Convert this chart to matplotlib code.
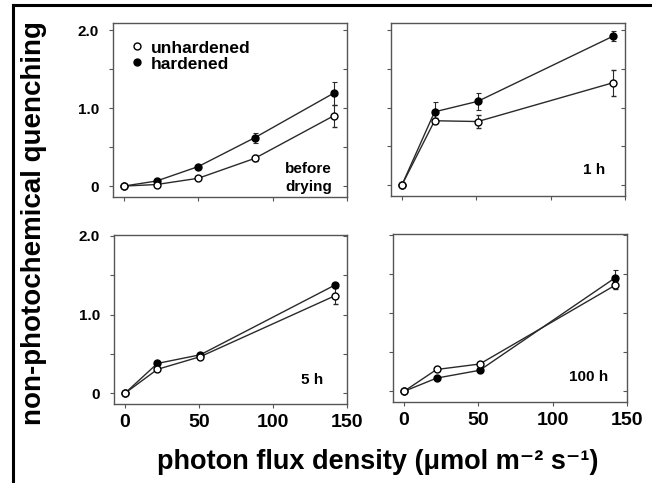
import matplotlib
matplotlib.use("Agg")
import matplotlib.pyplot as plt
from matplotlib.lines import Line2D

plt.rcParams['font.family'] = ['Liberation Sans', 'DejaVu Sans']
plt.rcParams['font.weight'] = 'bold'

# photon flux density (umol m-2 s-1)
x_before = [0, 22, 50, 88, 141]
x_later = [0, 22, 51, 142]

panel_titles = ['before\ndrying', '1 h', '5 h', '100 h']

unhard = [
    [0.0, 0.02, 0.10, 0.355, 0.90],
    [0.0, 0.83, 0.82, 1.32],
    [0.0, 0.305, 0.466, 1.24],
    [0.0, 0.28, 0.35, 1.355],
]
unhard_err = [
    [0.0, 0.0, 0.0, 0.04, 0.14],
    [0.0, 0.03, 0.08, 0.17],
    [0.0, 0.0, 0.0, 0.10],
    [0.0, 0.0, 0.0, 0.05],
]
hard = [
    [0.0, 0.065, 0.25, 0.62, 1.19],
    [0.0, 0.945, 1.08, 1.92],
    [0.0, 0.38, 0.49, 1.376],
    [0.0, 0.17, 0.27, 1.45],
]
hard_err = [
    [0.0, 0.0, 0.0, 0.064, 0.15],
    [0.0, 0.13, 0.11, 0.064],
    [0.0, 0.0, 0.0, 0.03],
    [0.0, 0.0, 0.0, 0.10],
]

W, H = 652, 483
fig = plt.figure(figsize=(W / 100, H / 100), dpi=100)


def box(l, t, r, b):
    return [l / W, 1 - b / H, (r - l) / W, (b - t) / H]


rects = [box(113, 23, 347, 197), box(391, 23, 625, 196),
         box(114, 235, 347, 404), box(393, 234, 627, 402)]
ylims = [(-0.14, 2.09), (-0.14, 2.09), (-0.135, 2.01), (-0.135, 2.01)]
# right edge / vertical centre of panel labels, in pixels
text_pos = [(332, 178), (605, 170), (323, 380), (608, 377)]

line_col = '#2a2a2a'
spine_col = '#555555'

for i in range(4):
    ax = fig.add_axes(rects[i])
    xs = x_before if i == 0 else x_later
    ax.errorbar(xs, hard[i], yerr=hard_err[i], color=line_col, lw=1,
                marker='o', ms=5, mfc='black', mec='black',
                elinewidth=0.8, capsize=1.8, capthick=0.8, zorder=3)
    ax.errorbar(xs, unhard[i], yerr=unhard_err[i], color=line_col, lw=1,
                marker='o', ms=5, mfc='white', mec='black', mew=1,
                elinewidth=0.8, capsize=1.8, capthick=0.8, zorder=3)
    ax.set_xlim(-7.3, 150)
    ax.set_ylim(*ylims[i])
    ax.set_xticks([0, 50, 100, 150])
    ax.set_yticks([0, 0.5, 1.0, 1.5, 2.0])
    if i % 2 == 0:
        ax.set_yticklabels(['0', '', '1.0', '', '2.0'])
    else:
        ax.set_yticklabels([])
    if i < 2:
        ax.set_xticklabels([])
    ax.tick_params(direction='out', length=3, width=0.8, color=spine_col)
    ax.tick_params(axis='y', labelsize=11, pad=7)
    ax.tick_params(axis='x', labelsize=14, pad=4)
    for lab in ax.get_xticklabels() + ax.get_yticklabels():
        lab.set_fontweight('bold')
    for s in ax.spines.values():
        s.set_color(spine_col)
        s.set_linewidth(1)
    sec = ax.secondary_yaxis('right')
    sec.set_yticks([0, 0.5, 1.0, 1.5, 2.0])
    sec.set_yticklabels([])
    sec.tick_params(direction='in', length=3, width=0.8, color=spine_col)
    sec.spines['right'].set_visible(False)

    px, py = text_pos[i]
    fig.text(px / W, 1 - py / H, panel_titles[i], ha='right', va='center',
             fontsize=11, fontweight='bold', linespacing=1.3)

    if i == 0:
        handles = [Line2D([], [], ls='none', marker='o', ms=5, mfc='white', mec='black'),
                   Line2D([], [], ls='none', marker='o', ms=5, mfc='black', mec='black')]
        ax.legend(handles, ['unhardened', 'hardened'], loc='upper left',
                  bbox_to_anchor=(0.02, 0.97), frameon=False, handlelength=0.8,
                  handletextpad=0.4, labelspacing=0.05, borderaxespad=0.3,
                  prop={'weight': 'bold', 'size': 12.5})

fig.text(34 / W, 1 - 223 / H, 'non-photochemical quenching', rotation=90,
         ha='center', va='center', fontsize=20, fontweight='bold')
fig.text(378 / W, 1 - 462 / H, 'photon flux density (\u03bcmol m\u207b\u00b2 s\u207b\u00b9)',
         ha='center', va='center', fontsize=19.5, fontweight='bold')

# frame lines at top and left
fig.add_artist(Line2D([13 / W, 1], [1 - 5 / H, 1 - 5 / H], color='black', lw=2.2))
fig.add_artist(Line2D([13 / W, 13 / W], [0, 1 - 5 / H], color='black', lw=2.2))

fig.savefig('out.png', dpi=100)
